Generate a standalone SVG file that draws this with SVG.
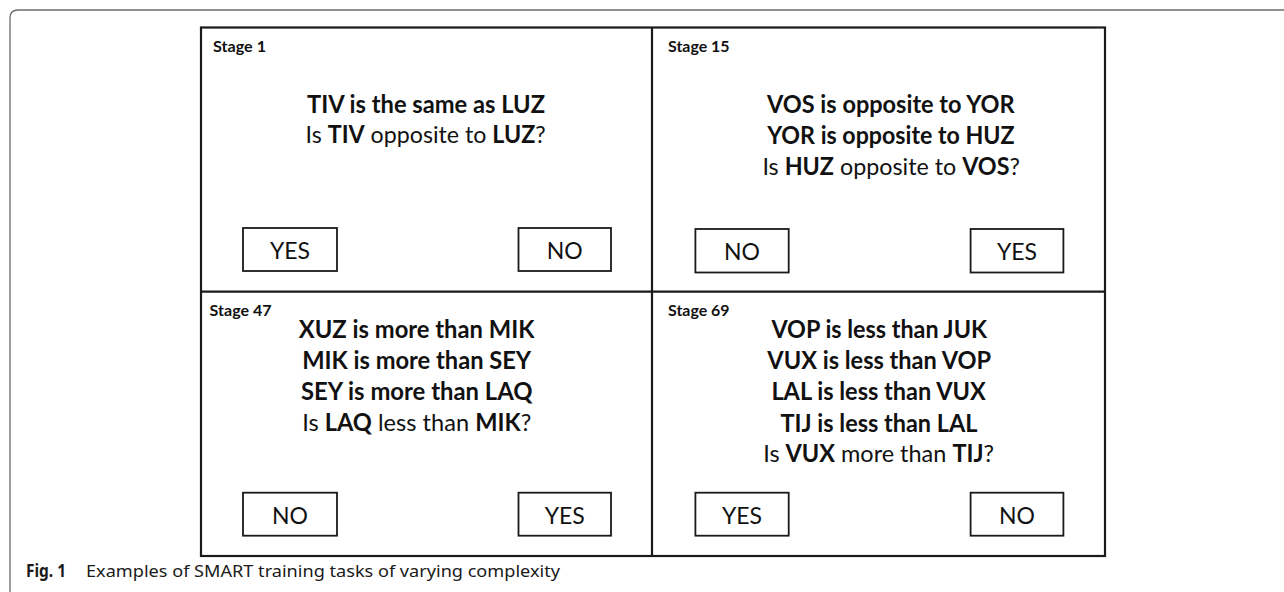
<svg xmlns="http://www.w3.org/2000/svg" width="1284" height="592" viewBox="0 0 1284 592">
<style>
.frame{fill:none;stroke:#6b6b6b;stroke-width:1.3}
.grid{fill:none;stroke:#1a1a1a;stroke-width:2.2}
.btn{fill:#fff;stroke:#1a1a1a;stroke-width:1.8}
.lbl{font-family:Lato,"Liberation Sans",sans-serif;font-weight:700;font-size:16px;fill:#111}
.q{font-family:Lato,"Liberation Sans",sans-serif;font-size:24px;fill:#111;text-anchor:start}
.b{font-weight:700}
.bt{font-family:Lato,"Liberation Sans",sans-serif;font-size:23px;fill:#111;text-anchor:middle}
.cap{font-family:"Noto Sans","Liberation Sans",sans-serif;font-size:17px;fill:#1a1a1a}
</style>
<rect width="1284" height="592" fill="#fff"/>
<path class="frame" d="M10 592 V18 Q10 10 18 10 H1284"/>
<g id="connectors">
<rect class="grid" x="201" y="27.5" width="904" height="528.5"/>
<line class="grid" x1="652" y1="27.5" x2="652" y2="556"/>
<line class="grid" x1="201" y1="291.7" x2="1105" y2="291.7"/>
</g>
<g id="stage1">
<text class="lbl" x="213" y="51.7" textLength="53" lengthAdjust="spacingAndGlyphs">Stage 1</text>
<text class="q b" x="307" y="112.7" textLength="238" lengthAdjust="spacingAndGlyphs">TIV is the same as LUZ</text>
<text class="q" x="305.6" y="143" textLength="240" lengthAdjust="spacingAndGlyphs">Is <tspan class="b">TIV</tspan> opposite to <tspan class="b">LUZ</tspan>?</text>
<rect class="btn" x="243" y="228" width="94" height="43"/>
<text class="bt" x="290" y="259">YES</text>
<rect class="btn" x="518.5" y="228" width="92.5" height="43"/>
<text class="bt" x="564.7" y="259">NO</text>
</g>
<g id="stage15">
<text class="lbl" x="668" y="52" textLength="61.6" lengthAdjust="spacingAndGlyphs">Stage 15</text>
<text class="q b" x="767" y="112.7" textLength="247.6" lengthAdjust="spacingAndGlyphs">VOS is opposite to YOR</text>
<text class="q b" x="767.3" y="144" textLength="247.3" lengthAdjust="spacingAndGlyphs">YOR is opposite to HUZ</text>
<text class="q" x="762.4" y="175" textLength="257.5" lengthAdjust="spacingAndGlyphs">Is <tspan class="b">HUZ</tspan> opposite to <tspan class="b">VOS</tspan>?</text>
<rect class="btn" x="695.4" y="229" width="93.3" height="43.5"/>
<text class="bt" x="742" y="260">NO</text>
<rect class="btn" x="970.6" y="229" width="92.8" height="43.5"/>
<text class="bt" x="1017" y="260">YES</text>
</g>
<g id="stage47">
<text class="lbl" x="209.6" y="316" textLength="62" lengthAdjust="spacingAndGlyphs">Stage 47</text>
<text class="q b" x="298.8" y="337.7" textLength="235.7" lengthAdjust="spacingAndGlyphs">XUZ is more than MIK</text>
<text class="q b" x="302.2" y="369" textLength="229" lengthAdjust="spacingAndGlyphs">MIK is more than SEY</text>
<text class="q b" x="301" y="400" textLength="231.5" lengthAdjust="spacingAndGlyphs">SEY is more than LAQ</text>
<text class="q" x="302.2" y="430.7" textLength="229" lengthAdjust="spacingAndGlyphs">Is <tspan class="b">LAQ</tspan> less than <tspan class="b">MIK</tspan>?</text>
<rect class="btn" x="243" y="492.7" width="94" height="43"/>
<text class="bt" x="290" y="524">NO</text>
<rect class="btn" x="518.5" y="492.7" width="92.5" height="43"/>
<text class="bt" x="564.7" y="524">YES</text>
</g>
<g id="stage69">
<text class="lbl" x="668" y="316" textLength="61.6" lengthAdjust="spacingAndGlyphs">Stage 69</text>
<text class="q b" x="771.4" y="337.7" textLength="215.6" lengthAdjust="spacingAndGlyphs">VOP is less than JUK</text>
<text class="q b" x="767.3" y="369" textLength="223.8" lengthAdjust="spacingAndGlyphs">VUX is less than VOP</text>
<text class="q b" x="771.4" y="400" textLength="214.4" lengthAdjust="spacingAndGlyphs">LAL is less than VUX</text>
<text class="q b" x="780.5" y="431.7" textLength="197" lengthAdjust="spacingAndGlyphs">TIJ is less than LAL</text>
<text class="q" x="763.2" y="462.3" textLength="230.8" lengthAdjust="spacingAndGlyphs">Is <tspan class="b">VUX</tspan> more than <tspan class="b">TIJ</tspan>?</text>
<rect class="btn" x="695.4" y="492.7" width="93.3" height="43"/>
<text class="bt" x="742" y="524">YES</text>
<rect class="btn" x="970.6" y="492.7" width="92.8" height="43"/>
<text class="bt" x="1017" y="524">NO</text>
</g>
<g id="caption">
<text class="cap" x="26" y="576.5" font-weight="700" textLength="40" lengthAdjust="spacingAndGlyphs">Fig. 1</text>
<text class="cap" x="86" y="576.5" textLength="474" lengthAdjust="spacingAndGlyphs">Examples of SMART training tasks of varying complexity</text>
</g>
</svg>
